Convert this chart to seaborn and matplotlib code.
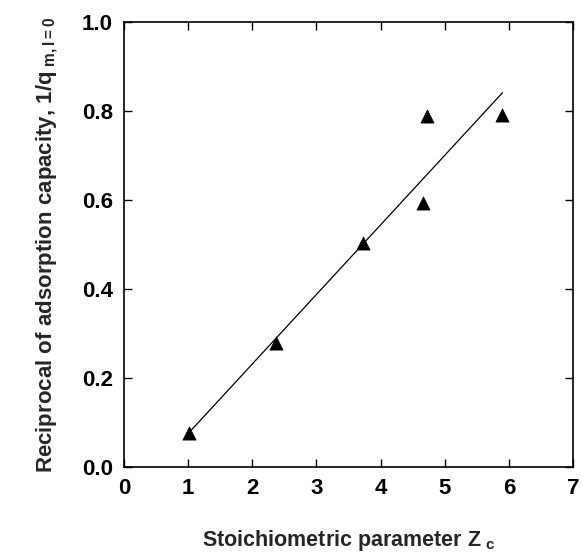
import matplotlib
matplotlib.use("Agg")
import matplotlib.pyplot as plt
import seaborn as sns
import pandas as pd

# data
zc = [1.01, 2.37, 3.73, 4.66, 4.72, 5.90]
recip_q = [0.077, 0.278, 0.504, 0.593, 0.789, 0.791]
fit_x = [0.98, 5.90]
fit_y = [0.072, 0.841]
xticks = [0, 1, 2, 3, 4, 5, 6, 7]
yticks = [0.0, 0.2, 0.4, 0.6, 0.8, 1.0]

sns.set_theme(style="ticks")
plt.rcParams['font.family'] = ['Liberation Sans', 'DejaVu Sans']
plt.rcParams['font.weight'] = 'bold'
plt.rcParams['mathtext.fontset'] = 'custom'
plt.rcParams['mathtext.rm'] = 'Liberation Sans:bold'
plt.rcParams['mathtext.bf'] = 'Liberation Sans:bold'
plt.rcParams['mathtext.it'] = 'Liberation Sans:bold'

fig = plt.figure(figsize=(5.83, 5.58), dpi=100)
ax = fig.add_axes([124/583, 91/558, (573-124)/583, (467-22)/558])

pts = pd.DataFrame({"zc": zc, "q": recip_q})
fit = pd.DataFrame({"x": fit_x, "y": fit_y})

sns.lineplot(data=fit, x="x", y="y", ax=ax, color="black", linewidth=0.9)
sns.scatterplot(data=pts, x="zc", y="q", ax=ax, marker="^", s=90,
                color="black", edgecolor="black", linewidth=0.5, zorder=3)

ax.set_xlim(0, 7)
ax.set_ylim(0, 1.0)
ax.set_xticks(xticks)
ax.set_yticks(yticks)
ax.set_xticklabels([str(t) for t in xticks], fontsize=16, fontweight='bold')
ax.set_yticklabels([f"{t:.1f}" for t in yticks], fontsize=16, fontweight='bold')
ax.tick_params(direction='in', length=6, width=1, top=True, right=True,
               colors='black', pad=8)
for s in ax.spines.values():
    s.set_linewidth(1.2)
    s.set_color('black')

ax.set_xlabel(r"Stoichiometric parameter Z$_{\ \mathrm{c}}$", fontsize=15.5,
              fontweight='bold', labelpad=21)
ax.set_ylabel(r"Reciprocal of adsorption capacity, 1/q$_{\ \mathrm{m,I=0}}$",
              fontsize=16, fontweight='bold', labelpad=16)

fig.savefig("out.png", dpi=100)
